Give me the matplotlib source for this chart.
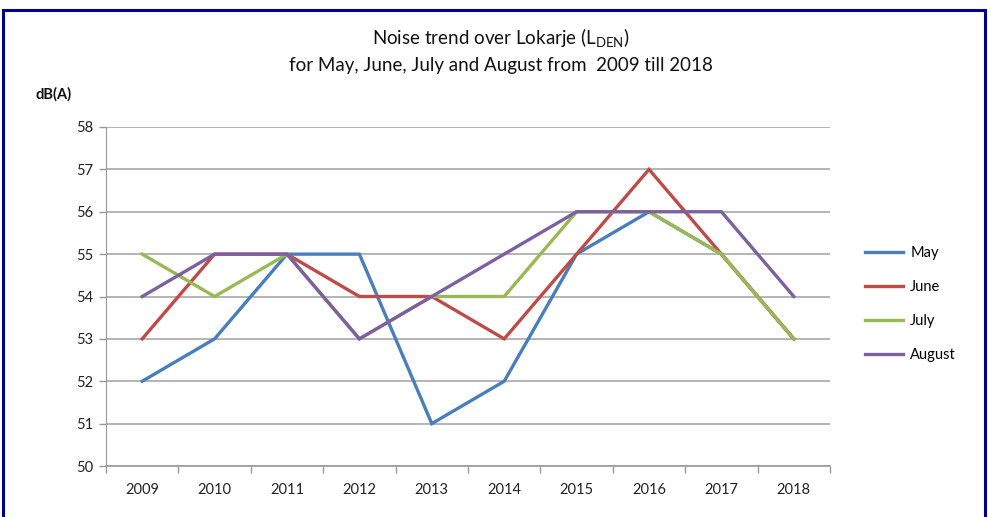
import matplotlib
matplotlib.use("Agg")
import matplotlib.pyplot as plt
from matplotlib.patches import Rectangle
from matplotlib.lines import Line2D

years = ["2009", "2010", "2011", "2012", "2013", "2014", "2015", "2016", "2017", "2018"]
may = [52, 53, 55, 55, 51, 52, 55, 56, 55, 53]
june = [53, 55, 55, 54, 54, 53, 55, 57, 55, 53]
july = [55, 54, 55, 53, 54, 54, 56, 56, 55, 53]
august = [54, 55, 55, 53, 54, 55, 56, 56, 56, 54]
series_names = ["May", "June", "July", "August"]
colors = ["#4A7EBB", "#BE4B48", "#98B954", "#7D60A0"]

plt.rcParams['font.family'] = ['Lato', 'DejaVu Sans']
plt.rcParams['mathtext.fontset'] = 'custom'
plt.rcParams['mathtext.rm'] = 'Lato'

W, H = 988, 517
fig = plt.figure(figsize=(W / 100, H / 100), dpi=100)
fig.patch.set_facecolor("white")

# axes in pixel coords
left, right, top, bottom = 106, 830, 127, 466
ax = fig.add_axes([left / W, 1 - bottom / H, (right - left) / W, (bottom - top) / H])

x = list(range(len(years)))
for vals, c, name in zip([may, june, july, august], colors, series_names):
    ax.plot(x, vals, color=c, lw=2.4, label=name, solid_joinstyle='miter')

ax.set_xlim(-0.5, len(years) - 0.5)
ax.set_ylim(50, 58)
ax.set_yticks(range(50, 59))
ax.set_xticks(x)
ax.set_xticklabels(years)
ax.set_xticks([i - 0.5 for i in range(len(years) + 1)], minor=True)
ax.tick_params(axis='x', which='major', length=0, pad=12, labelsize=10.5, colors='#222222')
ax.tick_params(axis='x', which='minor', length=5, color='#999999', width=1)
ax.tick_params(axis='y', length=5, color='#999999', width=1, labelsize=10.5, colors='#222222', pad=4)
ax.yaxis.grid(True, color='#A0A0A0', lw=1.1)
ax.set_axisbelow(True)
for s in ['top', 'right']:
    ax.spines[s].set_visible(False)
ax.spines['left'].set_color('#999999')
ax.spines['bottom'].set_color('#999999')
ax.spines['bottom'].set_linewidth(1.2)

# title
fig.text(501 / W, 1 - 38 / H, r"Noise trend over Lokarje (L$_{\mathregular{DEN}}$)",
         ha='center', va='center', fontsize=13.5, color='#111111')
fig.text(501 / W, 1 - 65 / H, "for May, June, July and August from  2009 till 2018",
         ha='center', va='center', fontsize=13.5, color='#111111')
fig.text(36 / W, 1 - 94 / H, "dB(A)", ha='left', va='center', fontsize=10.5,
         fontweight='bold', color='#111111')

# legend
handles = [Line2D([0], [0], color=c, lw=2.4) for c in colors]
fig.legend(handles, series_names, loc='center left', bbox_to_anchor=(852 / W, 1 - 304 / H),
           frameon=False, fontsize=10.5, handlelength=2.6, labelspacing=1.38, handletextpad=0.5)

# border
fig.add_artist(Rectangle((3 / W, -0.05), (985 - 3) / W, 1.05 - 10 / H,
                         transform=fig.transFigure, fill=False, edgecolor='#00008B', lw=2.2))

fig.savefig("out.png", dpi=100)
